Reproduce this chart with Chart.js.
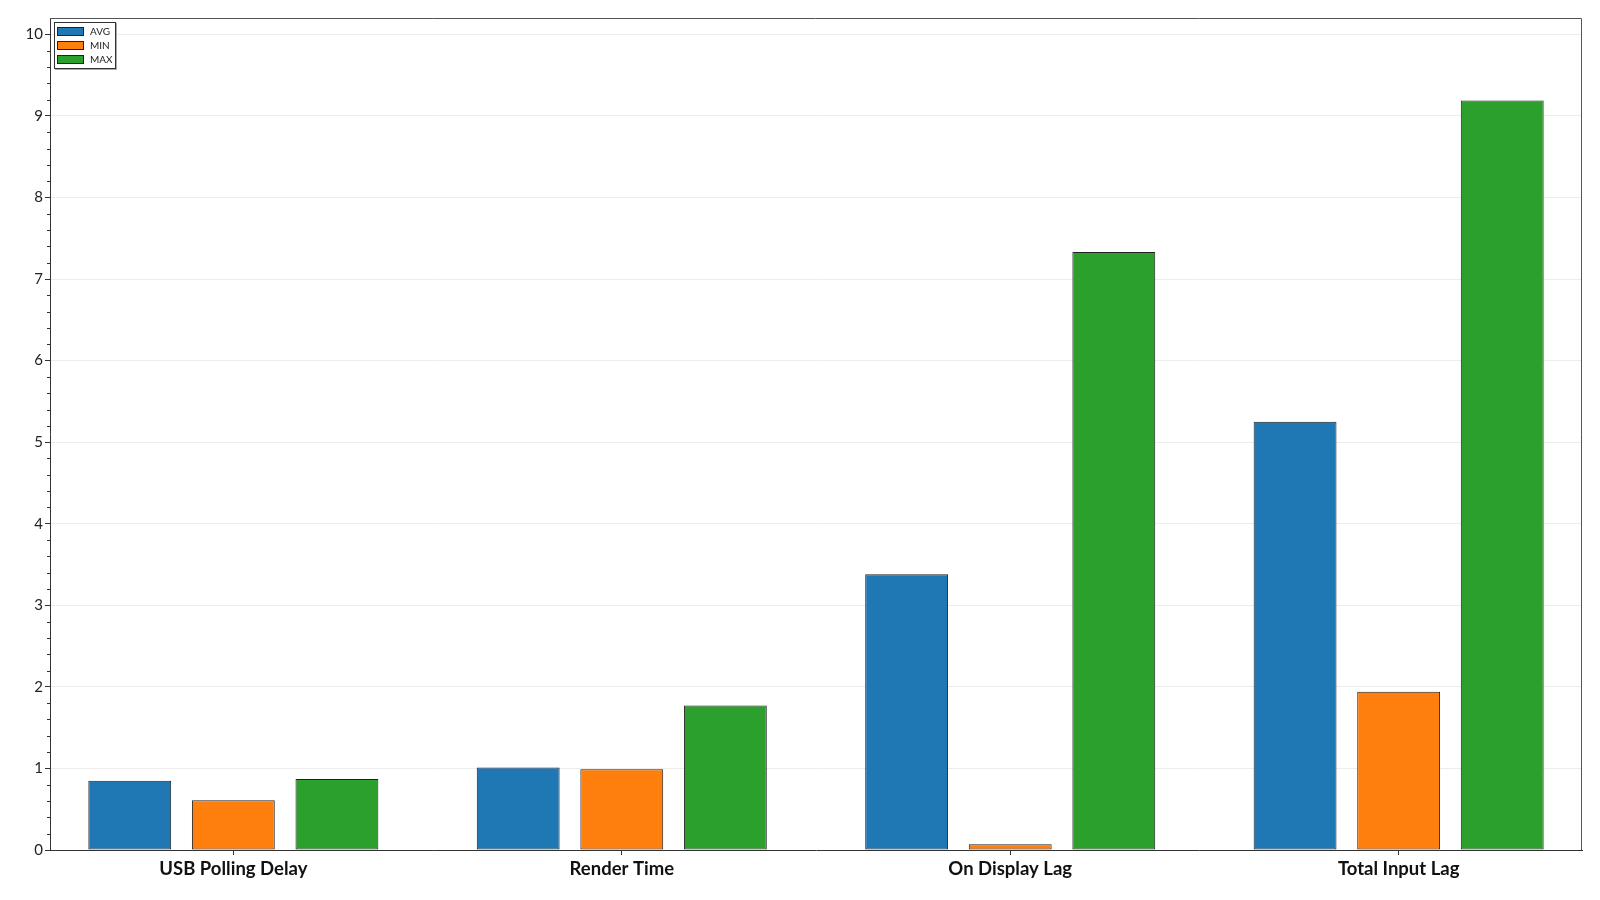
<!DOCTYPE html>
<html>
<head>
<meta charset="utf-8">
<script src="https://cdn.jsdelivr.net/npm/chart.js@4/dist/chart.umd.min.js"></script>
<style>
  html, body { margin: 0; padding: 0; background: #fff; }
  #wrap { position: relative; width: 1600px; height: 900px; }
  #legend { position: absolute; left: 54px; top: 22px; width: 60px; padding: 1px 0 2px 0;
    border: 1px solid #333; background: #fff; box-shadow: 1px 1px 0 #aaa;
    font-family: Lato, "Open Sans", sans-serif; font-size: 10px; color: #222; }
  #legend .item { display: flex; align-items: center; height: 14px; }
  #legend .sw { width: 25px; height: 7px; border: 1px solid #222; margin: 0 6px 0 2px; }
</style>
</head>
<body>
<div id="wrap">
  <canvas id="c" width="1600" height="900"></canvas>
  <div id="legend"></div>
</div>
<script>
const categories = ["USB Polling Delay", "Render Time", "On Display Lag", "Total Input Lag"];
const seriesNames = ["AVG", "MIN", "MAX"];
const avgValues = [0.85, 1.01, 3.38, 5.25];
const minValues = [0.61, 0.99, 0.07, 1.94];
const maxValues = [0.87, 1.77, 7.33, 9.19];
const yTickValues = [0, 1, 2, 3, 4, 5, 6, 7, 8, 9, 10];
const colors = ["#1f77b4", "#ff7f0e", "#2ca02c"];

const seriesValues = [avgValues, minValues, maxValues];

const datasets = seriesNames.map((name, s) => ({
  label: name,
  data: categories.map((c, i) => ({ x: i, y: seriesValues[s][i] })),
  backgroundColor: colors[s],
  borderColor: "#222",
  borderWidth: 1,
  borderSkipped: false,
  categoryPercentage: 0.8,
  barPercentage: 0.8
}));

// HTML legend built from series names
const legendEl = document.getElementById("legend");
seriesNames.forEach((name, s) => {
  const it = document.createElement("div");
  it.className = "item";
  const sw = document.createElement("span");
  sw.className = "sw";
  sw.style.background = colors[s];
  const tx = document.createElement("span");
  tx.textContent = name;
  it.appendChild(sw); it.appendChild(tx);
  legendEl.appendChild(it);
});

const framePlugin = {
  id: "frame",
  afterDraw(chart) {
    const { ctx, chartArea: a, scales } = chart;
    ctx.save();
    ctx.strokeStyle = "#555";
    ctx.lineWidth = 1;
    ctx.beginPath();
    ctx.moveTo(a.left, a.top + 0.5);
    ctx.lineTo(a.right - 0.5, a.top + 0.5);
    ctx.lineTo(a.right - 0.5, a.bottom);
    ctx.stroke();
    // minor ticks on y axis
    ctx.strokeStyle = "#333";
    ctx.beginPath();
    const y = scales.y;
    for (let k = 1; k <= 51; k++) {
      if (k % 5 === 0) continue;
      const v = k * 0.2;
      if (v > y.max) break;
      const py = Math.round(y.getPixelForValue(v)) + 0.5;
      ctx.moveTo(a.left - 3, py);
      ctx.lineTo(a.left, py);
    }
    ctx.stroke();
    ctx.restore();
  }
};

new Chart(document.getElementById("c"), {
  type: "bar",
  data: { datasets },
  options: {
    responsive: false,
    animation: false,
    layout: { padding: { top: 18, right: 18, left: 0, bottom: 0 } },
    plugins: { legend: { display: false }, tooltip: { enabled: false } },
    scales: {
      x: {
        type: "linear",
        offset: false,
        min: -0.472,
        max: 3.472,
        afterBuildTicks(scale) { scale.ticks = categories.map((c, i) => ({ value: i })); },
        afterFit(scale) { scale.height = 50; },
        grid: { offset: false, drawOnChartArea: false, drawTicks: true, tickLength: 5, tickColor: "#333" },
        border: { display: true, color: "#333", width: 1 },
        ticks: {
          autoSkip: false,
          maxRotation: 0,
          padding: 3,
          color: "#111",
          font: { family: "Lato, 'Open Sans', sans-serif", size: 18.5, weight: "bold" },
          callback: (v) => categories[v]
        }
      },
      y: {
        min: 0,
        max: 10.2,
        afterBuildTicks(scale) { scale.ticks = yTickValues.map(v => ({ value: v })); },
        afterFit(scale) { scale.width = 50; },
        grid: { color: "#ececec", lineWidth: 1, drawTicks: true, tickLength: 5, tickColor: "#333" },
        border: { display: true, color: "#333", width: 1 },
        ticks: {
          padding: 2,
          color: "#222",
          font: { family: "Lato, 'Open Sans', sans-serif", size: 15 }
        }
      }
    }
  },
  plugins: [framePlugin]
});
</script>
</body>
</html>
